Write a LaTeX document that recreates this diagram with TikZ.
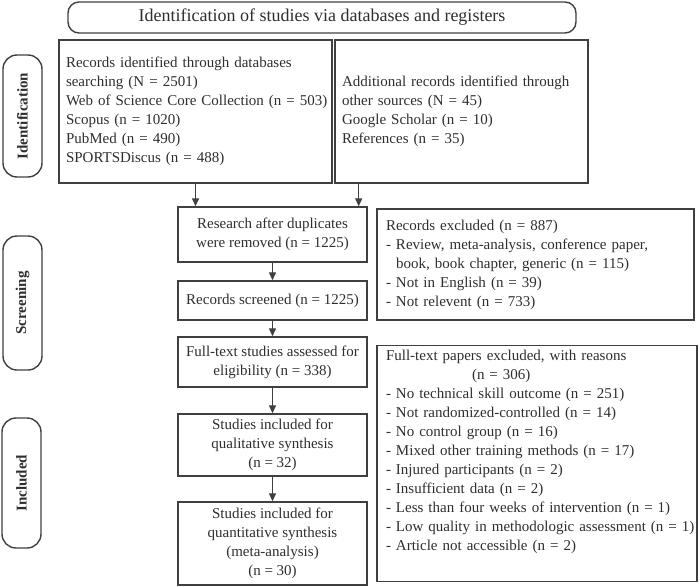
\documentclass[tikz,border=0pt]{standalone}
\usepackage{fontspec}
\setmainfont{Liberation Serif}
\usetikzlibrary{arrows.meta}
\definecolor{ln}{HTML}{404040}
\definecolor{tx}{HTML}{2E2E2E}
\begin{document}
\begin{tikzpicture}[x=1pt,y=-1pt,
  font=\fontsize{15}{19}\selectfont, text=tx,
  frame/.style={draw=ln, line width=1.4pt, rectangle},
  cbox/.style={frame, align=center, minimum width=189pt, inner sep=2pt},
  lbox/.style={frame, align=left, inner ysep=2pt},
  pill/.style={draw=ln, line width=1.4pt, rounded corners=14pt, rotate=90,
    font=\fontsize{15}{19}\selectfont\bfseries, minimum height=39pt, inner sep=0pt},
  arr/.style={draw=ln, line width=1.3pt, -{Triangle[length=8pt,width=7pt]}}]
\useasboundingbox (0,0) rectangle (700,586);

\node[frame, rounded corners=11pt, minimum width=508pt, minimum height=31pt,
  font=\fontsize{18}{22}\selectfont] (top) at (322,17.5)
  {Identification of studies via databases and registers};

\node[lbox, minimum width=273pt, minimum height=143pt, text width=259pt, inner xsep=7pt] (idl) at (195.5,111.5)
  {\begin{tabular}{@{}l@{}}Records identified through databases\\
   searching (N = 2501)\\
   Web of Science Core Collection (n = 503)\\
   Scopus (n = 1020)\\
   PubMed (n = 490)\\
   SPORTSDiscus (n = 488)\end{tabular}};

\node[lbox, minimum width=253pt, minimum height=143pt, text width=239pt, inner xsep=7pt] (idr) at (461.5,111.5)
  {\begin{tabular}{@{}l@{}}Additional records identified through\\
   other sources (N = 45)\\
   Google Scholar (n = 10)\\
   References (n = 35)\end{tabular}};

\node[cbox, minimum height=55pt] (research) at (272.5,234.5)
  {Research after duplicates\\ were removed (n = 1225)};
\node[cbox, minimum height=39pt] (screened) at (272.5,300.5)
  {Records screened (n = 1225)};
\node[cbox, minimum height=50pt] (fulltext) at (272.5,362)
  {Full-text studies assessed for\\ eligibility (n = 338)};
\node[cbox, minimum height=62pt] (qual) at (272.5,445)
  {Studies included for\\ qualitative synthesis\\ (n = 32)};
\node[cbox, minimum height=83pt] (quant) at (272.5,543.5)
  {Studies included for\\ quantitative synthesis\\ (meta-analysis)\\ (n = 30)};

\node[lbox, minimum width=317pt, minimum height=111pt, text width=299pt, inner xsep=9pt] (ex1) at (535.5,264.5)
  {\begin{tabular}{@{}l@{}}Records excluded (n = 887)\\
   - Review, meta-analysis, conference paper,\\
   \hspace*{10pt}book, book chapter, generic (n = 115)\\
   - Not in English (n = 39)\\
   - Not relevent (n = 733)\end{tabular}};

\node[lbox, minimum width=320pt, minimum height=235pt, text width=302pt, inner xsep=9pt] (ex2) at (537,463.5)
  {\begin{tabular}{@{}l@{}}Full-text papers excluded, with reasons\\
   \hspace*{86pt}(n = 306)\\
   - No technical skill outcome (n = 251)\\
   - Not randomized-controlled (n = 14)\\
   - No control group (n = 16)\\
   - Mixed other training methods (n = 17)\\
   - Injured participants (n = 2)\\
   - Insufficient data (n = 2)\\
   - Less than four weeks of intervention (n = 1)\\
   - Low quality in methodologic assessment (n = 1)\\
   - Article not accessible (n = 2)\\[23pt]\end{tabular}};

\node[pill, minimum width=122pt] (idp) at (22.5,116) {Identification};
\node[pill, minimum width=134pt] (scp) at (22.5,303) {Screening};
\node[pill, minimum width=130pt] (inp) at (21.5,483) {Included};

\draw[arr] (idl.south) -- (idl.south |- research.north);
\coordinate (rin) at ([xshift=-9pt]research.north east);
\draw[arr] (rin |- idr.south) -- (rin);
\draw[arr] (research.south) -- (screened.north);
\draw[arr] (screened.south) -- (fulltext.north);
\draw[arr] (fulltext.south) -- (qual.north);
\draw[arr] (qual.south) -- (quant.north);
\end{tikzpicture}
\end{document}
